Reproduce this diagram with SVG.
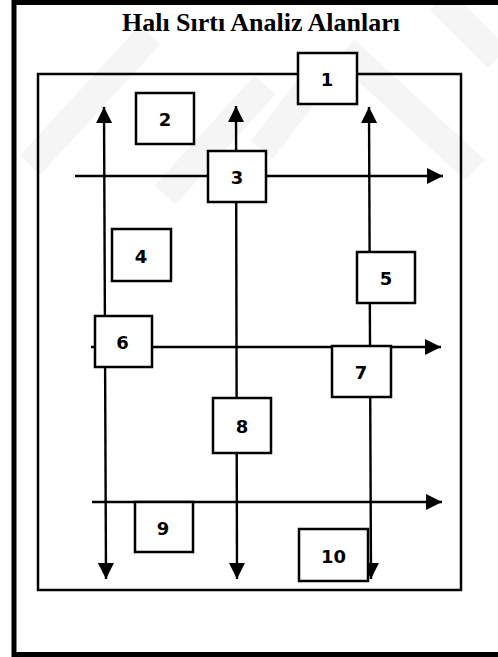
<svg xmlns="http://www.w3.org/2000/svg" width="498" height="657" viewBox="0 0 498 657">
<defs>
<style>
.wm{stroke:#f5f5f5;stroke-width:28;fill:none}
.ln{stroke:#000;stroke-width:2.4;fill:none}
.bx{fill:#fff;stroke:#000;stroke-width:2.5}
.num{font-family:"DejaVu Sans",sans-serif;font-weight:bold;font-size:18px;text-anchor:middle;fill:#000}
.title{font-family:"Liberation Serif","Times New Roman",serif;font-weight:bold;font-size:26px;text-anchor:middle;fill:#000}
</style>
<marker id="ah" viewBox="0 0 16 16" refX="16" refY="8" markerWidth="16" markerHeight="16" markerUnits="userSpaceOnUse" orient="auto-start-reverse">
<path d="M0,0 L16,8 L0,16 Z" fill="#000"/>
</marker>
</defs>
<rect x="0" y="0" width="498" height="657" fill="#fff"/>
<g id="watermark">
<line class="wm" x1="30" y1="165" x2="150" y2="35"/>
<line class="wm" x1="165" y1="195" x2="265" y2="85"/>
<line class="wm" x1="262" y1="150" x2="330" y2="60"/>
<line class="wm" x1="345" y1="50" x2="475" y2="170"/>
<line class="wm" x1="440" y1="0" x2="498" y2="58"/>
</g>
<rect id="frame" x="14" y="2.5" width="500" height="652" fill="none" stroke="#000" stroke-width="5"/>
<text id="title" class="title" x="261" y="31">Halı Sırtı Analiz Alanları</text>
<rect id="area" x="38" y="74" width="423" height="516" fill="none" stroke="#000" stroke-width="2.5"/>
<g id="connectors">
<line class="ln" x1="104" y1="107" x2="106" y2="579" marker-start="url(#ah)" marker-end="url(#ah)"/>
<line class="ln" x1="236" y1="106" x2="237" y2="579" marker-start="url(#ah)" marker-end="url(#ah)"/>
<line class="ln" x1="369" y1="107" x2="371" y2="579" marker-start="url(#ah)" marker-end="url(#ah)"/>
<line class="ln" x1="75" y1="176" x2="443" y2="176" marker-end="url(#ah)"/>
<line class="ln" x1="91" y1="347" x2="441" y2="347" marker-end="url(#ah)"/>
<line class="ln" x1="92" y1="502" x2="442" y2="502" marker-end="url(#ah)"/>
</g>
<g id="n1"><rect class="bx" x="298" y="53" width="59" height="51"/><text class="num" x="327" y="86">1</text></g>
<g id="n2"><rect class="bx" x="136" y="93" width="58" height="51"/><text class="num" x="165" y="126">2</text></g>
<g id="n3"><rect class="bx" x="208" y="151" width="58" height="51"/><text class="num" x="237" y="184">3</text></g>
<g id="n4"><rect class="bx" x="112" y="229" width="59" height="52"/><text class="num" x="141" y="262.5">4</text></g>
<g id="n5"><rect class="bx" x="357" y="252" width="58" height="51"/><text class="num" x="386" y="285">5</text></g>
<g id="n6"><rect class="bx" x="95" y="316" width="57" height="51"/><text class="num" x="122.5" y="349">6</text></g>
<g id="n7"><rect class="bx" x="332" y="346" width="59" height="51"/><text class="num" x="361" y="379">7</text></g>
<g id="n8"><rect class="bx" x="213" y="398" width="58" height="55"/><text class="num" x="242" y="433">8</text></g>
<g id="n9"><rect class="bx" x="135" y="502" width="58" height="50"/><text class="num" x="163" y="534.5">9</text></g>
<g id="n10"><rect class="bx" x="299" y="529" width="69" height="52"/><text class="num" x="333.5" y="562.5">10</text></g>
</svg>
